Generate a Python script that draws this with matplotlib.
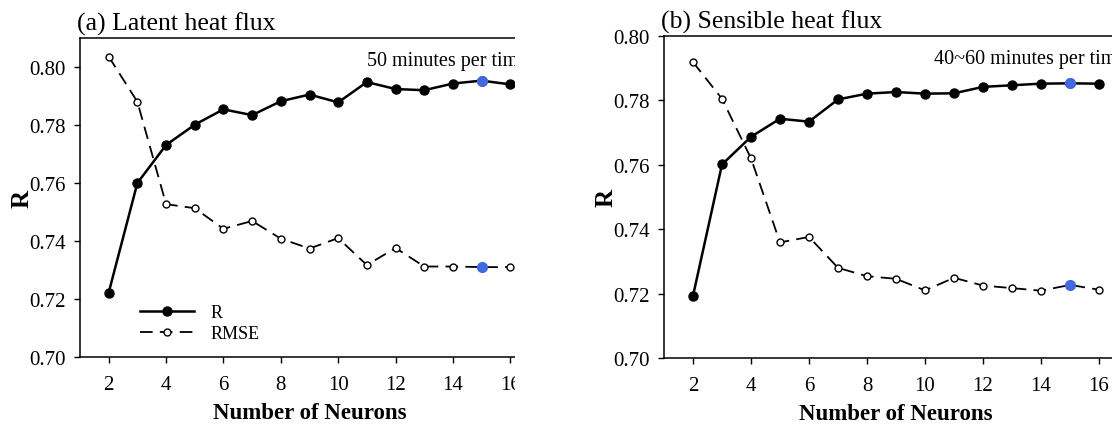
import matplotlib
matplotlib.use("Agg")
import matplotlib.pyplot as plt
from matplotlib.patches import Rectangle

plt.rcParams['font.family'] = ['Liberation Serif', 'DejaVu Serif']

neurons = [2, 3, 4, 5, 6, 7, 8, 9, 10, 11, 12, 13, 14, 15, 16]
best_neuron = 15

# Panel (a) latent heat flux
r_latent = [0.7222, 0.7600, 0.7731, 0.7801, 0.7854, 0.7834, 0.7882, 0.7905,
            0.7878, 0.7948, 0.7924, 0.7920, 0.7943, 0.7953, 0.7940]
rmse_latent = [0.8036, 0.7880, 0.7527, 0.7513, 0.7442, 0.7469, 0.7408, 0.7374,
               0.7410, 0.7317, 0.7376, 0.7312, 0.7312, 0.7310, 0.7310]

# Panel (b) sensible heat flux
r_sensible = [0.7193, 0.7601, 0.7687, 0.7743, 0.7734, 0.7803, 0.7821, 0.7826,
              0.7821, 0.7822, 0.7842, 0.7847, 0.7852, 0.7853, 0.7852]
rmse_sensible = [0.7919, 0.7805, 0.7620, 0.7359, 0.7376, 0.7280, 0.7254, 0.7246,
                 0.7210, 0.7249, 0.7225, 0.7217, 0.7209, 0.7227, 0.7212]

titles = ["(a) Latent heat flux", "(b) Sensible heat flux"]
notes = ["50 minutes per time", "40~60 minutes per time"]
ylims = [(0.70, 0.81), (0.70, 0.80)]
xticks = [2, 4, 6, 8, 10, 12, 14, 16]
yticks = [0.70, 0.72, 0.74, 0.76, 0.78, 0.80]

fig = plt.figure(figsize=(11.12, 4.27), dpi=100)
ax_a = fig.add_axes([80/1112, 1-358/427, 459/1112, 319/427])
ax_b = fig.add_axes([664/1112, 1-359/427, 464/1112, 322/427])

blue = '#4169E1'
panels = [(ax_a, r_latent, rmse_latent, 0), (ax_b, r_sensible, rmse_sensible, 1)]
for ax, r, rmse, i in panels:
    ax.plot(neurons, rmse, color='black', lw=1.3, dashes=(7, 4),
            marker='o', ms=5, mfc='white', mec='black', mew=1.0, label='RMSE', zorder=3)
    ax.plot(neurons, r, color='black', lw=1.8, marker='o', ms=6.5,
            mfc='black', mec='black', label='R', zorder=4)
    bi = neurons.index(best_neuron)
    ax.plot([neurons[bi]], [r[bi]], 'o', ms=7, color=blue, zorder=5)
    ax.plot([neurons[bi]], [rmse[bi]], 'o', ms=7, color=blue, zorder=5)
    ax.set_xlim(1, 17)
    ax.set_ylim(*ylims[i])
    ax.set_xticks(xticks)
    ax.set_yticks(yticks)
    ax.set_yticklabels([f"{v:.2f}" for v in yticks])
    ax.tick_params(direction='out', length=4, width=1, labelsize=15, pad=6)
    ax.tick_params(axis='x', pad=9)
    ax.spines['right'].set_visible(False)
    for s in ['left', 'bottom', 'top']:
        ax.spines[s].set_linewidth(1.1)
    ax.set_xlabel("Number of Neurons", fontsize=16.5, fontweight='bold', labelpad=6)
    ax.set_ylabel("R", fontsize=18, fontweight='bold', labelpad=-3)
    ax.set_title(titles[i], loc='left', fontsize=18.5, pad=6, x=-0.007)
    ax.text(0.625 if i == 0 else 0.581, 0.93, notes[i],
            transform=ax.transAxes, fontsize=14.5, ha='left', va='center', clip_on=True)

h, l = ax_a.get_legend_handles_labels()
ax_a.legend([h[1], h[0]], [l[1], l[0]], loc='lower left', bbox_to_anchor=(0.095, -0.005),
            frameon=False, fontsize=13, handlelength=3.0, handletextpad=0.9,
            numpoints=1, labelspacing=0.25)

# right edge of panel (a) is cropped in the source figure
fig.add_artist(Rectangle((515/1112, 0), 45/1112, 1, transform=fig.transFigure,
                         facecolor='white', edgecolor='none', zorder=20))

fig.savefig("out.png", dpi=100)
